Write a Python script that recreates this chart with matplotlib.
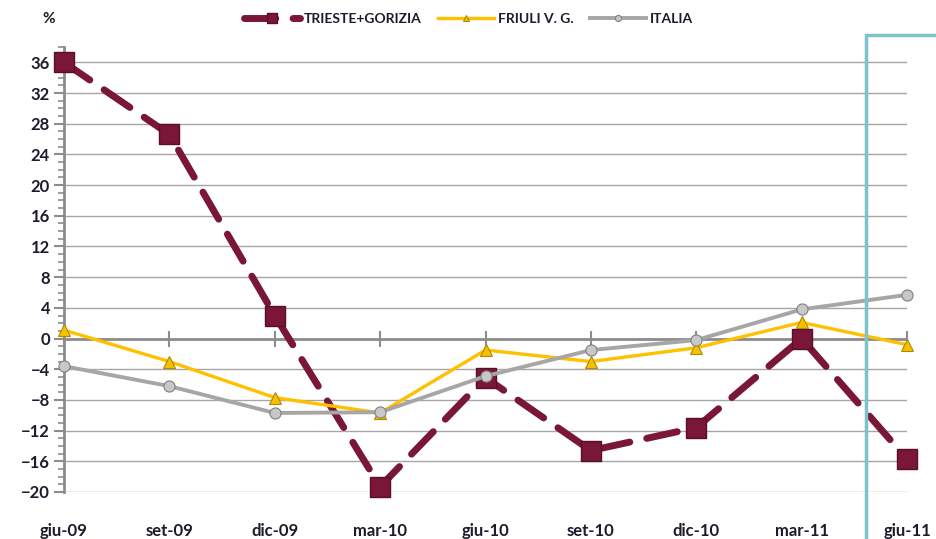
import matplotlib.pyplot as plt
from matplotlib.patches import Rectangle
from matplotlib.ticker import MultipleLocator

periods = ['giu-09', 'set-09', 'dic-09', 'mar-10', 'giu-10', 'set-10', 'dic-10', 'mar-11', 'giu-11']
trieste = [36.0, 26.6, 3.0, -19.3, -5.1, -14.6, -11.6, 0.0, -15.7]
friuli = [1.1, -3.0, -7.7, -9.7, -1.5, -3.0, -1.2, 2.1, -0.8]
italia = [-3.6, -6.2, -9.7, -9.6, -4.9, -1.5, -0.2, 3.8, 5.7]
yticks = list(range(-20, 37, 4))

plt.rcParams['font.family'] = ['Lato', 'DejaVu Sans']
txt = '#1c1c2c'

fig = plt.figure(figsize=(9.37, 5.39), dpi=100)
ax = fig.add_axes([0.0683, 0.0872, 0.8997, 0.8256])
x = list(range(len(periods)))

ax.plot(x, trieste, color='#7a1638', lw=5, ls=(0, (4.5, 2.5)), dash_capstyle='round',
        marker='s', ms=14, mfc='#7a1638', mec='#5a0e28', mew=1, label='TRIESTE+GORIZIA',
        zorder=3, clip_on=False)
ax.plot(x, friuli, color='#ffc000', lw=2.4, marker='^', ms=8, mfc='#f5c000', mec='#b08a00',
        mew=0.8, label='FRIULI V. G.', zorder=4, clip_on=False)
ax.plot(x, italia, color='#a6a6a6', lw=2.8, marker='o', ms=8, mfc='#c8c8c8', mec='#808080',
        mew=0.8, label='ITALIA', zorder=4, clip_on=False)

ax.set_xlim(0, len(periods) - 1)
ax.set_ylim(-20, 38)
ax.set_yticks(yticks)
ax.yaxis.set_minor_locator(MultipleLocator(1))
ax.grid(axis='y', color='#a6a6a6', lw=1)
ax.axhline(0, color='#8c8c8c', lw=2, zorder=2)
ax.set_axisbelow(True)

for s in ['top', 'right']:
    ax.spines[s].set_visible(False)
ax.spines['left'].set_color('#8c8c8c')
ax.spines['left'].set_linewidth(2)
ax.spines['bottom'].set_position(('data', 0))
ax.spines['bottom'].set_visible(False)
ax.tick_params(axis='y', which='major', length=7, width=1.5, color='#8c8c8c', labelsize=12,
               labelcolor=txt, pad=3)
ax.tick_params(axis='y', which='minor', length=4, width=1.2, color='#8c8c8c')
for lab in ax.get_yticklabels():
    lab.set_fontweight('bold')

ax.set_xticks(x)
ax.xaxis.set_ticks_position('bottom')
ax.tick_params(axis='x', direction='inout', length=12, width=1.5, color='#8c8c8c',
               labelbottom=False, labeltop=False)

sec = ax.secondary_xaxis(0)
sec.set_xticks(x)
sec.set_xticklabels(periods, fontsize=12, fontweight='bold', color=txt)
sec.tick_params(length=0, pad=22)
sec.spines['bottom'].set_visible(False)

fig.text(0.045, 0.965, '%', fontsize=11, fontweight='bold', color=txt, ha='left', va='center')
leg = fig.legend(loc='center', bbox_to_anchor=(0.5, 0.965), ncol=3, frameon=False,
                 handlelength=4, columnspacing=1.2, handletextpad=0.3, markerscale=0.55,
                 prop={'weight': 'bold', 'size': 10})
for t in leg.get_texts():
    t.set_color(txt)

fig.patches.append(Rectangle((866 / 937, -0.1), 0.2, 1.035, transform=fig.transFigure,
                             fill=False, ec='#7cc3cb', lw=2.5, zorder=5))

fig.savefig('out.png', dpi=100)
